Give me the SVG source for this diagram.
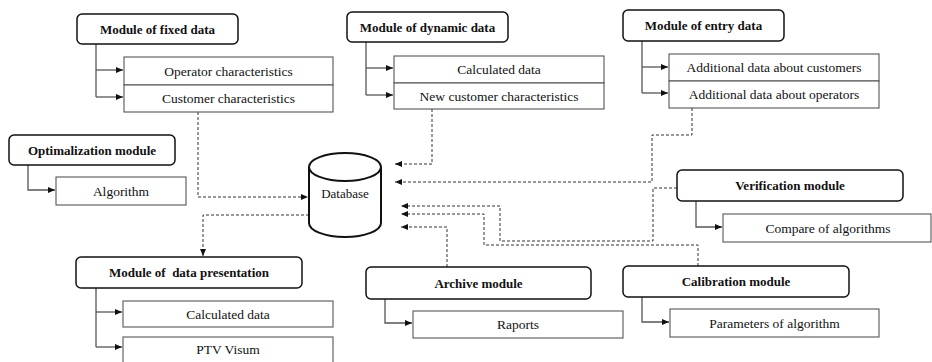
<svg xmlns="http://www.w3.org/2000/svg" width="932" height="362" viewBox="0 0 932 362">
<defs>
<marker id="ah" markerUnits="userSpaceOnUse" markerWidth="8" markerHeight="7" refX="7" refY="3" orient="auto"><path d="M0,0 L7,3 L0,6 z" fill="#111"/></marker>
<style>
.mod{fill:#fff;stroke:#111;stroke-width:1.5}
.sub{fill:#fff;stroke:#555;stroke-width:1.1}
.t{font-family:"Liberation Serif","Times New Roman",serif;font-size:13px;font-weight:bold;fill:#111;text-anchor:middle;dominant-baseline:central}
.s{font-family:"Liberation Serif","Times New Roman",serif;font-size:13.5px;fill:#111;text-anchor:middle;dominant-baseline:central}
.c{fill:none;stroke:#555;stroke-width:1.3}
.d{fill:none;stroke:#333;stroke-width:1;stroke-dasharray:3 2}
</style>
</defs>
<rect width="932" height="362" fill="#fff"/>
<g id="connectors">
<path class="c" d="M96 44 V97"/><path class="c" d="M96 70 H123" marker-end="url(#ah)"/><path class="c" d="M96 97 H123" marker-end="url(#ah)"/>
<path class="c" d="M366 42 V95"/><path class="c" d="M366 68 H393" marker-end="url(#ah)"/><path class="c" d="M366 95 H393" marker-end="url(#ah)"/>
<path class="c" d="M642 41 V93" stroke="#888"/><path class="c" d="M642 67 H668" marker-end="url(#ah)" stroke="#888"/><path class="c" d="M642 93 H668" marker-end="url(#ah)" stroke="#888"/>
<path class="c" d="M28 165 V190 H55" marker-end="url(#ah)"/>
<path class="c" d="M96 288 V347"/><path class="c" d="M96 312 H122" marker-end="url(#ah)"/><path class="c" d="M96 347 H122" marker-end="url(#ah)"/>
<path class="c" d="M385 299 V323 H412" marker-end="url(#ah)"/>
<path class="c" d="M642 297 V322 H669" marker-end="url(#ah)"/>
<path class="c" d="M696 201 V227 H722" marker-end="url(#ah)"/>
<path class="d" d="M198 112 V197 H308" marker-end="url(#ah)"/>
<path class="d" d="M309 215 H203 V256" marker-end="url(#ah)"/>
<path class="d" d="M432 109 V164 H395" marker-end="url(#ah)"/>
<path class="d" d="M692 108 V135 H652 V182 H395" marker-end="url(#ah)"/>
<path class="d" d="M677 188 H653 V241 H500 V206 H401" marker-end="url(#ah)"/>
<path class="d" d="M698 266 V245 H484 V214 H401" marker-end="url(#ah)"/>
<path class="d" d="M447 267 V227 H401" marker-end="url(#ah)"/>
</g>
<g id="fixed">
<rect class="mod" x="77" y="14" width="161" height="30" rx="5"/><text class="t" x="157.5" y="29">Module of fixed data</text>
<rect class="sub" x="124" y="57" width="209" height="28"/><text class="s" x="228.5" y="71">Operator characteristics</text>
<rect class="sub" x="124" y="85" width="209" height="27"/><text class="s" x="228.5" y="98.5">Customer characteristics</text>
</g>
<g id="dynamic">
<rect class="mod" x="347" y="12" width="161" height="30" rx="5"/><text class="t" x="427.5" y="27">Module of dynamic data</text>
<rect class="sub" x="394" y="56" width="210" height="27"/><text class="s" x="499" y="69.5">Calculated data</text>
<rect class="sub" x="394" y="83" width="210" height="26"/><text class="s" x="499" y="96">New customer characteristics</text>
</g>
<g id="entry">
<rect class="mod" x="623" y="10" width="161" height="31" rx="5"/><text class="t" x="703.5" y="25.5">Module of entry data</text>
<rect class="sub" x="669" y="54" width="210" height="27"/><text class="s" x="774" y="67.5">Additional data about customers</text>
<rect class="sub" x="669" y="81" width="210" height="27"/><text class="s" x="774" y="94.5">Additional data about operators</text>
</g>
<g id="optimalization">
<rect class="mod" x="9" y="135" width="166" height="30" rx="5"/><text class="t" x="92" y="150">Optimalization module</text>
<rect class="sub" x="56" y="177" width="130" height="28"/><text class="s" x="121" y="191">Algorithm</text>
</g>
<g id="database">
<path d="M309 167 V223 A36 14 0 0 0 381 223 V167" fill="#fff" stroke="#111" stroke-width="2"/>
<ellipse cx="345" cy="167" rx="36" ry="14" fill="#fff" stroke="#111" stroke-width="2"/>
<text class="s" x="345" y="193" style="font-size:13px">Database</text>
</g>
<g id="verification">
<rect class="mod" x="677" y="170" width="226" height="31" rx="5"/><text class="t" x="790" y="185.5">Verification module</text>
<rect class="sub" x="723" y="214" width="208" height="28"/><text class="s" x="828" y="228">Compare of algorithms</text>
</g>
<g id="presentation">
<rect class="mod" x="76" y="257" width="226" height="31" rx="5"/><text class="t" x="189" y="272.5" xml:space="preserve">Module of  data presentation</text>
<rect class="sub" x="123" y="301" width="210" height="26"/><text class="s" x="228" y="314">Calculated data</text>
<rect class="sub" x="123" y="337" width="210" height="30"/><text class="s" x="228" y="349">PTV Visum</text>
</g>
<g id="archive">
<rect class="mod" x="366" y="267" width="225" height="32" rx="5"/><text class="t" x="478.5" y="283">Archive module</text>
<rect class="sub" x="413" y="311" width="210" height="27"/><text class="s" x="518" y="324.5">Raports</text>
</g>
<g id="calibration">
<rect class="mod" x="623" y="266" width="226" height="31" rx="5"/><text class="t" x="736" y="281">Calibration module</text>
<rect class="sub" x="670" y="309" width="209" height="28"/><text class="s" x="774.5" y="323">Parameters of algorithm</text>
</g>
</svg>
